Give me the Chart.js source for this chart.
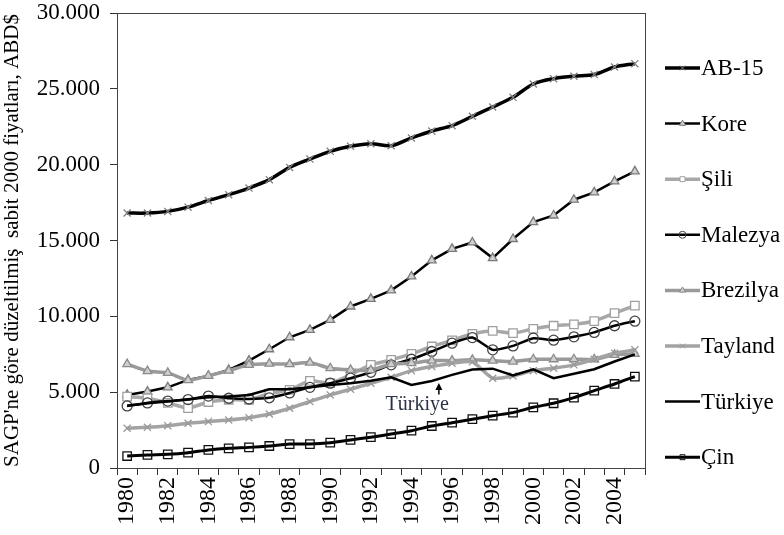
<!DOCTYPE html>
<html lang="tr">
<head>
<meta charset="utf-8">
<script src="https://cdn.jsdelivr.net/npm/chart.js@4.4.1/dist/chart.umd.min.js"></script>
<style>
  html, body { margin: 0; padding: 0; background: #fff; }
  #wrap { width: 784px; height: 535px; position: relative; }
</style>
</head>
<body>
<div id="wrap"><canvas id="chartGdp"></canvas></div>
<script>
/* ===== Kişi başına GSYH, 1980-2005 ===== */
const years = ['1980','1981','1982','1983','1984','1985','1986','1987','1988','1989','1990','1991','1992',
  '1993','1994','1995','1996','1997','1998','1999','2000','2001','2002','2003','2004','2005'];

const ab15 = [16810,16810,16920,17200,17640,18020,18460,19010,19820,20370,20880,21210,21380,
  21250,21760,22220,22570,23190,23800,24440,25320,25670,25830,25940,26440,26660];
const kore = [4820,5040,5320,5810,6070,6470,7080,7830,8620,9110,9770,10650,11150,
  11710,12630,13690,14450,14870,13840,15100,16210,16650,17690,18170,18900,19560];
const sili = [4700,4600,4300,3950,4350,4500,4500,4900,5150,5750,5600,6150,6800,
  7130,7520,8010,8410,8850,9040,8890,9180,9380,9470,9690,10210,10710];
const malezya = [4090,4290,4410,4510,4740,4600,4550,4630,4950,5320,5590,5920,6310,
  6800,7170,7680,8230,8600,7790,8050,8560,8430,8650,8940,9380,9680];
const brezilya = [6850,6390,6270,5790,6080,6420,6800,6880,6850,6950,6580,6470,6450,
  6850,6910,7080,7080,7130,7080,7020,7170,7170,7170,7170,7460,7520];
const tayland = [2620,2680,2790,2950,3060,3170,3320,3560,3940,4380,4820,5190,5590,
  5980,6420,6690,6910,7000,5920,6070,6420,6580,6800,7170,7570,7790];
const turkiye = [4110,4270,4380,4530,4660,4710,4820,5190,5190,5320,5480,5590,5760,
  5980,5480,5740,6140,6490,6550,6100,6500,5920,6220,6510,7020,7490];
const cin = [790,860,900,1010,1190,1300,1360,1450,1580,1580,1670,1850,2030,
  2240,2460,2770,2990,3220,3450,3650,4000,4270,4640,5100,5540,6030];

const seriesNames = ['AB-15','Kore','Şili','Malezya','Brezilya','Tayland','Türkiye','Çin'];
const yTicks = [0, 5000, 10000, 15000, 20000, 25000, 30000];
const yTitle = "SAGP'ne göre düzeltilmiş  sabit 2000 fiyatları, ABD$";
const noteText = 'Türkiye';

const SERIF = '"Liberation Serif", "Times New Roman", serif';

// line / marker styles, same order as seriesNames
const STYLES = [
  { line: '#000', width: 3.5, point: 'crossRot', pColor: '#808080', pFill: 'transparent', r: 5, tension: 0.3 },
  { line: '#000', width: 2.5, point: 'triangle', pColor: '#7a7a7a', pFill: '#d0d0d0', r: 5, tension: 0 },
  { line: '#a8a8a8', width: 3.5, point: 'rect', pColor: '#a0a0a0', pFill: '#fff', r: 6, tension: 0.2 },
  { line: '#000', width: 2.5, point: 'circle', pColor: '#444', pFill: 'transparent', r: 5, tension: 0.15 },
  { line: '#9a9a9a', width: 3.5, point: 'triangle', pColor: '#8c8c8c', pFill: '#cfcfcf', r: 5, tension: 0.2 },
  { line: '#a3a3a3', width: 3.5, point: 'crossRot', pColor: '#9a9a9a', pFill: 'transparent', r: 5, tension: 0.2 },
  { line: '#000', width: 2.5, point: false, pColor: '#000', pFill: '#000', r: 0, tension: 0 },
  { line: '#000', width: 3, point: 'rect', pColor: '#111', pFill: 'transparent', r: 6, tension: 0.25 }
];

const seriesData = [ab15, kore, sili, malezya, brezilya, tayland, turkiye, cin];

function fmtTr(v) {
  return String(v).replace(/\B(?=(\d{3})+(?!\d))/g, '.');
}

// frame round the plot, legend on the right, Türkiye note with arrow
const decorPlugin = {
  id: 'decor',
  afterDraw(chart) {
    const { ctx, chartArea: a, scales } = chart;
    ctx.save();
    ctx.strokeStyle = '#444';
    ctx.lineWidth = 1;
    ctx.strokeRect(a.left + 0.5, a.top + 0.5, a.right - a.left, a.bottom - a.top);

    // legend
    const lx = a.right + 20;
    const step = 55.6;
    ctx.font = '23px ' + SERIF;
    ctx.textBaseline = 'middle';
    ctx.textAlign = 'left';
    seriesNames.forEach((name, i) => {
      const st = STYLES[i];
      const y = a.top + 55 + i * step;
      ctx.strokeStyle = st.line;
      ctx.lineWidth = st.width;
      ctx.beginPath();
      ctx.moveTo(lx, y);
      ctx.lineTo(lx + 35, y);
      ctx.stroke();
      if (st.point) {
        ctx.strokeStyle = st.pColor;
        ctx.fillStyle = st.pFill;
        ctx.lineWidth = 1;
        Chart.helpers.drawPoint(ctx, { pointStyle: st.point, radius: 3.5, rotation: 0, borderWidth: 1 }, lx + 17.5, y);
      }
      ctx.fillStyle = '#000';
      ctx.fillText(name, lx + 36, y + 1);
    });

    // note
    const xs = scales.x, ys = scales.y;
    const ax = xs.getPixelForValue(15) + 0.35 * (xs.getPixelForValue(16) - xs.getPixelForValue(15));
    const tipY = ys.getPixelForValue(5600);
    const tailY = ys.getPixelForValue(4850);
    ctx.strokeStyle = '#000';
    ctx.fillStyle = '#000';
    ctx.lineWidth = 1.5;
    ctx.beginPath();
    ctx.moveTo(ax, tailY);
    ctx.lineTo(ax, tipY + 4);
    ctx.stroke();
    ctx.beginPath();
    ctx.moveTo(ax, tipY);
    ctx.lineTo(ax - 3.5, tipY + 7);
    ctx.lineTo(ax + 3.5, tipY + 7);
    ctx.closePath();
    ctx.fill();
    ctx.font = '20px ' + SERIF;
    ctx.fillStyle = '#2a3245';
    ctx.textAlign = 'right';
    ctx.fillText(noteText, ax + 10, ys.getPixelForValue(4150));
    ctx.restore();
  }
};

const datasets = seriesData.map((data, i) => {
  const st = STYLES[i];
  return {
    label: seriesNames[i],
    data,
    borderColor: st.line,
    borderWidth: st.width,
    tension: st.tension,
    pointStyle: st.point,
    pointRadius: st.r,
    pointBorderColor: st.pColor,
    pointBackgroundColor: st.pFill,
    pointBorderWidth: 1.3,
    fill: false,
    order: -i
  };
});

new Chart(document.getElementById('chartGdp'), {
  type: 'line',
  data: { labels: years, datasets },
  options: {
    responsive: true,
    maintainAspectRatio: false,
    animation: false,
    layout: { padding: { top: 13, right: 139, left: 0, bottom: 0 } },
    plugins: {
      legend: { display: false },
      tooltip: { enabled: false }
    },
    scales: {
      x: {
        type: 'category',
        offset: true,
        afterFit: s => { s.height = 67; },
        grid: { offset: true, drawOnChartArea: false, tickLength: 7, color: '#333' },
        border: { color: '#333' },
        ticks: {
          autoSkip: false,
          minRotation: 90,
          maxRotation: 90,
          padding: 2,
          color: '#000',
          font: { family: SERIF, size: 24, lineHeight: 1 },
          callback: (v, i) => (i % 2 === 0 ? years[i] : '')
        }
      },
      y: {
        min: yTicks[0],
        max: yTicks[yTicks.length - 1],
        afterFit: s => { s.width = 117; s.paddingTop = 0; s.paddingBottom = 0; },
        afterBuildTicks: s => { s.ticks = yTicks.map(v => ({ value: v })); },
        grid: { drawOnChartArea: false, tickLength: 7, color: '#333' },
        border: { color: '#333' },
        ticks: {
          padding: 10,
          color: '#000',
          font: { family: SERIF, size: 23, lineHeight: 1 },
          callback: v => fmtTr(v)
        },
        title: {
          display: true,
          text: yTitle,
          color: '#000',
          padding: { top: 0, bottom: 0 },
          font: { family: SERIF, size: 21 }
        }
      }
    }
  },
  plugins: [decorPlugin]
});
</script>
</body>
</html>
